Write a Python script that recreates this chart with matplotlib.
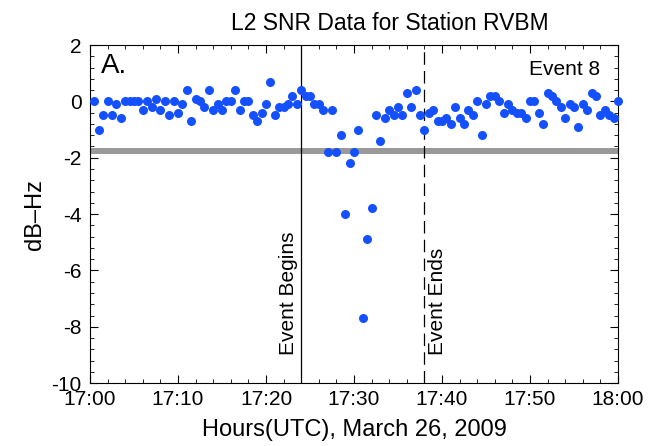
import numpy as np
import matplotlib
matplotlib.use("Agg")
import matplotlib.pyplot as plt

plt.rcParams['font.family'] = ['Liberation Sans', 'DejaVu Sans']
plt.rcParams['axes.unicode_minus'] = False

# L2 SNR deviation (dB-Hz), sampled every 30 s from 17:00:30 to 18:00:00
minutes = np.arange(1, 121) * 0.5
snr = [
    0.0, -1.0, -0.5, 0.0, -0.5, -0.1, -0.6, 0.0, 0.0, 0.0,
    0.0, -0.3, 0.0, -0.2, 0.1, -0.3, 0.0, -0.5, 0.0, -0.4,
    -0.1, 0.4, -0.7, 0.1, 0.0, -0.2, 0.4, -0.3, -0.1, -0.3,
    0.0, 0.0, 0.4, -0.3, 0.0, 0.0, -0.5, -0.7, -0.4, -0.1,
    0.7, -0.5, -0.2, -0.2, -0.1, 0.2, -0.1, 0.4, 0.2, 0.2,
    -0.1, -0.1, -0.3, -1.8, -0.3, -1.8, -1.2, -4.0, -2.2, -1.8,
    -1.0, -7.7, -4.9, -3.8, -0.5, -1.4, -0.6, -0.3, -0.5, -0.2,
    -0.5, 0.3, -0.2, 0.4, -0.5, -1.0, -0.4, -0.3, -0.7, -0.7,
    -0.6, -0.8, -0.2, -0.6, -0.8, -0.3, -0.5, 0.0, -1.2, -0.1,
    0.2, 0.2, 0.0, -0.4, -0.1, -0.3, -0.4, -0.4, -0.6, 0.0,
    0.0, -0.4, -0.8, 0.3, 0.2, 0.0, -0.2, -0.6, -0.1, -0.2,
    -0.9, -0.1, -0.3, 0.3, 0.2, -0.5, -0.3, -0.5, -0.6, 0.0,
]
threshold = -1.75
event_begin = 24   # 17:24
event_end = 38     # 17:38

xticks = [0, 10, 20, 30, 40, 50, 60]
xtick_labels = ['17:00', '17:10', '17:20', '17:30', '17:40', '17:50', '18:00']
yticks = [-10, -8, -6, -4, -2, 0, 2]

fig = plt.figure(figsize=(6.54, 4.46), dpi=100)
ax = fig.add_axes([0.1376, 0.141, 0.8074, 0.758])

ax.axhline(threshold, color='#999999', lw=4.3, zorder=1)
ax.axvline(event_begin, color='black', lw=0.9, zorder=2)
ax.axvline(event_end, color='black', lw=0.9, ls=(0, (10, 5)), zorder=2)
ax.plot(minutes, snr, 'o', color='#1450ff', ms=6.5, mec='none', zorder=3, clip_on=False)

ax.set_xlim(0, 60)
ax.set_ylim(-10, 2)
ax.set_xticks(xticks)
ax.set_xticklabels(xtick_labels)
ax.set_xticks(np.arange(0, 61, 2), minor=True)
ax.set_yticks(yticks)
ax.set_yticks(np.arange(-10, 2.01, 0.4), minor=True)
ax.tick_params(which='both', direction='in', top=True, right=True, labelsize=15)
ax.tick_params(axis='x', which='major', pad=5)
ax.tick_params(axis='y', which='major', pad=6)
ax.tick_params(which='major', length=6, width=0.8)
ax.tick_params(which='minor', length=3, width=0.6)

ax.text(0.568, 1.03, 'L2 SNR Data for Station RVBM', transform=ax.transAxes,
        fontsize=16.5, ha='center', va='bottom')
ax.set_xlabel('Hours(UTC), March 26, 2009', fontsize=17, labelpad=7)
ax.set_ylabel('dB\u2013Hz', fontsize=17, labelpad=4)

ax.text(0.02, 0.975, 'A.', transform=ax.transAxes, fontsize=20, va='top', ha='left')
ax.text(0.966, 0.955, 'Event 8', transform=ax.transAxes, fontsize=15, va='top', ha='right')
ax.text(event_begin - 0.4, -9.0, 'Event Begins', rotation=90, fontsize=15,
        ha='right', va='bottom')
ax.text(event_end + 0.4, -9.0, 'Event Ends', rotation=90, fontsize=15,
        ha='left', va='bottom')

plt.savefig('out.png', dpi=100)
